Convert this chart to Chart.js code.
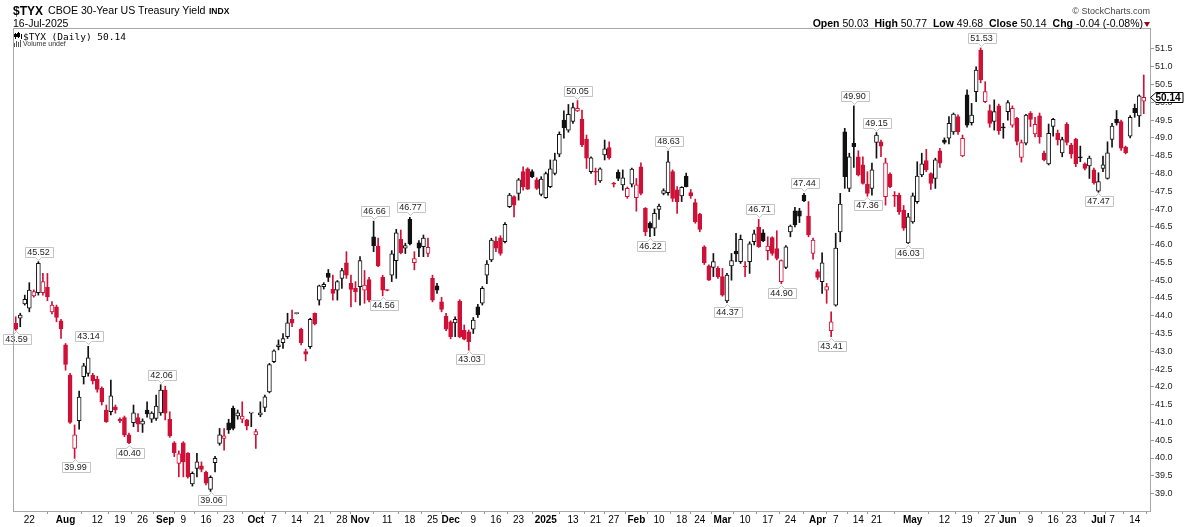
<!DOCTYPE html>
<html>
<head>
<meta charset="utf-8">
<script src="https://cdn.jsdelivr.net/npm/chart.js@4.4.1/dist/chart.umd.min.js"></script>
<style>
  body { margin: 0; background: #fff; }
  #wrap { position: relative; width: 1199px; height: 527px; overflow: hidden; font-family: "Liberation Sans", Arial, sans-serif; color: #000; }
  #wrap canvas { position: absolute; left: 0; top: 0; }
  .t { position: absolute; white-space: nowrap; line-height: 1; }
</style>
</head>
<body>
<div id="wrap">
  <canvas id="chart" width="1199" height="527"></canvas>
  <div class="t" style="left:13px;top:4.8px;font-size:12px;font-weight:bold;">$TYX</div>
  <div class="t" style="left:48px;top:5.3px;font-size:10.6px;">CBOE 30-Year US Treasury Yield</div>
  <div class="t" style="left:209px;top:7.1px;font-size:8.5px;font-weight:bold;">INDX</div>
  <div class="t" style="left:13px;top:17.8px;font-size:10.5px;">16-Jul-2025</div>
  <div class="t" id="lastline" style="left:23px;top:32px;font-family:'DejaVu Sans Mono',monospace;font-size:9.5px;"></div>
  <div class="t" style="left:23px;top:40.4px;font-size:7px;color:#333;">Volume undef</div>
  <div class="t" style="right:49px;top:7.4px;font-size:9px;color:#444;">&copy; StockCharts.com</div>
  <div class="t" id="ohlc" style="right:56px;top:17.8px;font-size:10.5px;"></div>
  <div style="position:absolute;left:1144px;top:22px;width:0;height:0;border-left:3.5px solid transparent;border-right:3.5px solid transparent;border-top:5px solid #a0001e;"></div>
</div>
<script>
// trading days shown on the chart (weekdays minus market holidays)
var holidays = ['2024-09-02', '2024-11-28', '2024-12-25', '2025-01-01', '2025-01-09', '2025-01-20',
  '2025-02-17', '2025-04-18', '2025-05-26', '2025-06-19', '2025-07-04'];
var dates = [];
for (var d = new Date(Date.UTC(2024, 6, 17)); d <= new Date(Date.UTC(2025, 6, 16)); d.setUTCDate(d.getUTCDate() + 1)) {
  var wd = d.getUTCDay(), s = d.toISOString().slice(0, 10);
  if (wd > 0 && wd < 6 && holidays.indexOf(s) < 0) dates.push(s);
}

// daily OHLC of $TYX
var open = [
  43.79, 43.93, 44.33, 44.21, 44.56, 44.65, 44.65, 44.80, 44.11, 44.25,
  43.86, 43.18, 42.33, 40.27, 41.05, 42.29, 42.38, 42.33, 42.21, 41.96,
  41.35, 41.30, 41.44, 41.09, 41.14, 40.65, 40.99, 41.14, 40.95, 41.35,
  41.09, 41.11, 41.27, 41.91, 41.09, 40.43, 39.85, 40.43, 40.13, 39.27,
  39.71, 39.78, 39.60, 39.12, 39.87, 40.41, 40.55, 40.99, 41.40, 41.18,
  41.09, 41.07, 41.26, 40.65, 41.21, 41.42, 41.86, 42.71, 43.13, 43.24,
  43.41, 43.90, 44.06, 43.62, 42.99, 43.13, 44.07, 44.44, 44.82, 45.19,
  44.74, 44.72, 45.05, 45.49, 44.91, 44.77, 44.82, 44.72, 45.02, 46.22,
  45.96, 45.08, 44.72, 45.14, 45.55, 46.15, 45.90, 46.71, 45.49, 46.05,
  45.94, 45.75, 45.05, 44.84, 44.39, 43.99, 43.83, 43.80, 44.41, 43.60,
  43.55, 43.62, 44.25, 44.35, 45.14, 45.57, 46.10, 46.19, 46.08, 47.07,
  47.35, 47.44, 48.05, 48.13, 48.05, 47.82, 47.41, 47.32, 47.63, 48.00,
  48.54, 49.50, 49.22, 49.46, 49.76, 49.53, 48.97, 48.05, 48.07, 47.79,
  48.52, 48.73, 47.72, 48.03, 47.68, 47.35, 47.70, 47.32, 48.19, 47.02,
  46.60, 46.46, 46.99, 47.44, 47.46, 48.05, 47.54, 47.37, 47.93, 47.46,
  47.18, 46.85, 45.94, 45.40, 45.36, 45.33, 45.10, 44.42, 45.40, 45.82,
  45.52, 45.39, 45.52, 46.08, 46.49, 46.33, 45.83, 46.20, 45.89, 44.96,
  45.36, 46.36, 46.95, 46.95, 47.39, 46.80, 45.75, 45.24, 44.96, 44.72,
  43.58, 44.30, 46.36, 49.17, 47.58, 48.85, 48.47, 48.24, 47.70, 47.58,
  48.87, 48.89, 47.35, 47.98, 47.38, 47.39, 46.97, 46.05, 46.64, 47.21,
  47.96, 48.36, 48.00, 47.86, 48.64, 48.94, 48.99, 49.17, 49.60, 48.49,
  50.21, 49.43, 50.30, 51.47, 50.02, 49.77, 49.46, 49.90, 49.30, 49.74,
  49.36, 49.55, 48.45, 48.85, 49.69, 49.11, 49.62, 48.57, 48.27, 49.32,
  49.13, 48.58, 49.38, 48.80, 48.96, 48.45, 48.27, 48.21, 48.10, 47.50,
  48.14, 47.86, 48.96, 49.52, 49.46, 48.74, 49.05, 49.83, 49.62, 50.03
];
var high = [
  43.97, 44.07, 44.58, 44.93, 44.73, 45.52, 45.19, 45.19, 44.40, 44.30,
  43.90, 43.22, 42.38, 40.93, 41.88, 42.66, 43.14, 42.38, 42.30, 42.00,
  41.49, 42.19, 41.49, 41.13, 41.18, 40.70, 41.49, 41.25, 41.10, 41.58,
  41.30, 41.77, 42.06, 42.02, 41.30, 40.46, 40.20, 40.46, 40.15, 39.61,
  40.13, 39.89, 39.63, 39.50, 40.05, 40.83, 40.83, 41.09, 41.46, 41.35,
  41.58, 41.09, 41.28, 40.81, 41.58, 41.77, 42.66, 43.04, 43.32, 43.50,
  44.07, 44.16, 44.08, 43.65, 43.06, 43.93, 44.08, 44.86, 44.93, 45.30,
  45.14, 44.99, 45.33, 45.80, 45.14, 44.96, 45.66, 45.27, 45.08, 46.66,
  46.18, 45.14, 44.73, 45.83, 46.43, 46.41, 46.04, 46.77, 45.80, 46.11,
  46.27, 46.18, 45.14, 44.91, 44.52, 44.07, 43.86, 43.97, 44.45, 43.74,
  43.60, 43.95, 44.32, 44.82, 45.55, 46.18, 46.22, 46.25, 46.62, 47.44,
  47.37, 47.86, 48.19, 48.16, 48.10, 47.88, 47.91, 48.04, 48.38, 48.57,
  49.17, 49.76, 49.94, 49.98, 50.05, 49.78, 49.08, 48.47, 48.15, 48.16,
  48.94, 48.89, 47.75, 48.10, 48.10, 47.62, 48.15, 47.86, 48.30, 47.04,
  46.64, 47.00, 47.14, 47.57, 48.63, 48.10, 47.63, 47.63, 48.01, 47.55,
  47.28, 46.88, 45.97, 45.43, 45.75, 45.38, 45.33, 45.19, 45.75, 46.32,
  46.27, 45.52, 46.08, 46.41, 46.71, 46.42, 46.22, 46.22, 46.39, 45.57,
  45.97, 46.55, 47.05, 47.02, 47.44, 47.21, 46.18, 45.30, 45.77, 44.91,
  44.11, 46.32, 47.44, 49.27, 48.57, 49.90, 48.64, 48.47, 48.05, 48.29,
  49.15, 48.94, 48.43, 48.02, 47.49, 47.45, 47.10, 46.88, 47.45, 48.33,
  48.57, 48.68, 48.02, 48.43, 48.71, 49.00, 49.60, 49.70, 49.65, 49.08,
  50.35, 49.97, 51.00, 51.53, 50.58, 49.93, 50.07, 49.95, 49.41, 50.05,
  49.90, 49.58, 48.94, 49.66, 49.74, 49.58, 49.70, 48.63, 49.39, 49.55,
  49.22, 49.02, 49.43, 48.85, 48.99, 48.77, 48.30, 48.49, 48.15, 48.02,
  48.49, 48.89, 49.41, 49.77, 49.50, 48.77, 49.63, 49.95, 50.21, 50.77
];
var low = [
  43.59, 43.69, 44.30, 44.11, 44.52, 44.58, 44.58, 44.42, 44.05, 43.83,
  43.36, 42.47, 40.97, 39.99, 40.81, 42.08, 42.30, 42.08, 41.85, 41.49,
  41.00, 41.21, 41.26, 40.99, 40.60, 40.40, 40.88, 40.74, 40.72, 41.15,
  41.00, 41.06, 41.20, 41.07, 40.58, 40.04, 39.47, 39.47, 39.43, 39.21,
  39.47, 39.61, 39.24, 39.06, 39.61, 40.36, 40.22, 40.69, 40.79, 41.09,
  40.99, 40.79, 40.88, 40.27, 41.16, 41.30, 41.83, 42.68, 43.04, 43.08,
  43.36, 43.69, 44.05, 43.18, 42.73, 43.08, 43.74, 44.30, 44.75, 44.96,
  44.44, 44.44, 44.77, 45.05, 44.25, 44.39, 44.30, 44.35, 44.39, 45.80,
  45.38, 44.56, 44.70, 44.96, 45.05, 45.74, 45.75, 45.99, 45.29, 45.66,
  45.66, 45.66, 44.39, 44.63, 44.11, 43.58, 43.35, 43.41, 43.38, 43.32,
  43.03, 43.50, 43.95, 44.30, 44.90, 45.52, 45.80, 45.70, 46.05, 47.04,
  46.78, 47.25, 47.53, 47.55, 47.88, 47.55, 47.37, 47.30, 47.60, 47.96,
  48.47, 48.99, 49.16, 49.41, 49.74, 48.75, 48.14, 48.00, 47.68, 47.75,
  48.38, 48.40, 47.62, 47.80, 47.53, 47.30, 47.62, 46.94, 47.40, 46.25,
  46.22, 46.25, 46.71, 47.40, 47.39, 47.21, 46.88, 47.21, 47.62, 47.30,
  46.60, 46.36, 45.44, 44.99, 45.10, 45.05, 44.55, 44.37, 45.00, 45.52,
  45.47, 45.10, 45.19, 45.99, 45.92, 46.08, 45.57, 45.70, 45.57, 44.90,
  45.32, 46.22, 46.50, 46.62, 47.21, 46.22, 45.59, 45.02, 44.63, 44.35,
  43.41, 44.27, 46.08, 47.58, 47.49, 48.17, 47.93, 47.70, 47.36, 47.39,
  48.43, 48.47, 47.11, 47.60, 47.07, 46.85, 46.40, 46.03, 46.60, 47.16,
  47.91, 48.05, 47.55, 47.58, 48.17, 48.83, 48.83, 49.10, 49.10, 48.47,
  49.30, 49.36, 50.02, 50.55, 49.99, 49.30, 49.22, 49.10, 48.99, 49.50,
  49.30, 48.80, 48.32, 48.80, 49.32, 49.03, 48.85, 48.35, 48.24, 49.05,
  48.80, 48.47, 48.80, 48.43, 48.19, 48.33, 48.10, 47.86, 47.70, 47.47,
  48.05, 47.84, 48.74, 49.36, 48.65, 48.55, 49.00, 49.58, 49.32, 49.68
];
var close = [
  43.62, 44.02, 44.46, 44.72, 44.68, 45.47, 44.96, 44.53, 44.30, 43.95,
  43.63, 42.63, 41.00, 40.65, 41.71, 42.59, 42.82, 42.17, 41.93, 41.58,
  41.02, 41.75, 41.35, 41.04, 40.65, 40.43, 41.27, 40.95, 41.04, 41.24,
  41.26, 41.46, 41.91, 41.26, 40.62, 40.15, 40.12, 39.89, 39.47, 39.57,
  39.89, 39.68, 39.29, 39.46, 39.99, 40.65, 40.62, 40.79, 40.83, 41.27,
  41.18, 40.90, 41.27, 40.74, 41.27, 41.72, 42.63, 43.01, 43.18, 43.36,
  43.80, 43.79, 44.07, 43.24, 42.92, 43.90, 43.77, 44.84, 44.88, 45.08,
  44.63, 44.96, 45.27, 45.14, 44.74, 44.68, 45.55, 44.86, 44.44, 45.97,
  45.40, 44.72, 44.71, 45.74, 46.33, 45.77, 45.97, 46.02, 45.61, 45.90,
  46.18, 45.92, 44.44, 44.72, 44.18, 43.62, 43.41, 43.90, 43.41, 43.34,
  43.27, 43.88, 44.02, 44.77, 45.45, 46.13, 45.90, 45.75, 46.57, 47.39,
  47.11, 47.82, 47.62, 47.56, 47.91, 47.58, 47.84, 48.00, 48.13, 48.38,
  49.10, 49.29, 49.66, 49.85, 49.83, 48.80, 48.43, 48.44, 48.04, 48.13,
  48.69, 48.44, 47.70, 47.86, 47.88, 47.58, 48.12, 47.68, 47.44, 46.36,
  46.46, 46.88, 47.08, 47.52, 48.33, 47.30, 47.21, 47.61, 47.63, 47.37,
  46.64, 46.43, 45.49, 45.00, 45.52, 45.10, 44.58, 45.14, 45.55, 45.74,
  46.15, 45.37, 46.02, 46.30, 45.94, 46.11, 45.96, 45.75, 45.61, 45.55,
  45.94, 46.52, 46.55, 46.80, 47.23, 46.27, 46.13, 45.08, 45.49, 44.82,
  43.83, 45.90, 47.14, 47.91, 48.47, 48.75, 47.96, 47.72, 47.44, 48.10,
  49.08, 48.77, 48.30, 47.63, 47.36, 46.92, 46.46, 46.78, 47.37, 47.93,
  48.27, 48.10, 47.72, 48.38, 48.29, 48.87, 49.41, 49.67, 49.17, 48.99,
  49.36, 49.64, 50.91, 50.63, 50.30, 49.41, 49.74, 49.20, 49.28, 49.99,
  49.83, 48.90, 48.87, 49.64, 49.52, 49.38, 49.03, 48.38, 49.13, 49.52,
  48.94, 48.95, 48.87, 48.55, 48.27, 48.44, 48.14, 48.43, 47.74, 47.77,
  48.24, 48.58, 49.33, 49.43, 48.71, 48.58, 49.58, 49.71, 50.18, 50.14
];

// bottom axis labels
var tickDates = ['2024-07-22', '2024-08-01', '2024-08-12', '2024-08-19', '2024-08-26', '2024-09-03',
  '2024-09-09', '2024-09-16', '2024-09-23', '2024-10-01', '2024-10-07', '2024-10-14', '2024-10-21',
  '2024-10-28', '2024-11-01', '2024-11-11', '2024-11-18', '2024-11-25', '2024-12-02', '2024-12-09',
  '2024-12-16', '2024-12-23', '2025-01-02', '2025-01-13', '2025-01-21', '2025-01-27', '2025-02-03',
  '2025-02-10', '2025-02-18', '2025-02-24', '2025-03-03', '2025-03-10', '2025-03-17', '2025-03-24',
  '2025-04-01', '2025-04-07', '2025-04-14', '2025-04-21', '2025-05-01', '2025-05-12', '2025-05-19',
  '2025-05-27', '2025-06-02', '2025-06-09', '2025-06-16', '2025-06-23', '2025-07-01', '2025-07-07',
  '2025-07-14'];
var tickText = ['22', 'Aug', '12', '19', '26', 'Sep', '9', '16', '23', 'Oct', '7', '14', '21', '28', 'Nov',
  '11', '18', '25', 'Dec', '9', '16', '23', '2025', '13', '21', '27', 'Feb', '10', '18', '24', 'Mar', '10',
  '17', '24', 'Apr', '7', '14', '21', 'May', '12', '19', '27', 'Jun', '9', '16', '23', 'Jul', '7', '14'];
var yTicks = [39, 39.5, 40, 40.5, 41, 41.5, 42, 42.5, 43, 43.5, 44, 44.5, 45, 45.5, 46, 46.5, 47, 47.5,
  48, 48.5, 49, 49.5, 50, 50.5, 51, 51.5];

// swing highs / lows that get a value flag
var markDates = ['2024-07-17', '2024-07-24', '2024-08-05', '2024-08-08', '2024-08-21', '2024-08-30',
  '2024-09-17', '2024-11-06', '2024-11-08', '2024-11-18', '2024-12-06', '2025-01-14', '2025-02-06',
  '2025-02-12', '2025-03-04', '2025-03-13', '2025-03-20', '2025-03-27', '2025-04-04', '2025-04-11',
  '2025-04-16', '2025-04-21', '2025-04-30', '2025-05-22', '2025-07-01'];
var markSide = ['low', 'high', 'low', 'high', 'low', 'high', 'low', 'high', 'low', 'high', 'low', 'high',
  'low', 'high', 'low', 'high', 'low', 'high', 'low', 'high', 'low', 'high', 'low', 'high', 'low'];

var red = '#cf1037';
var blk = '#111';
var n = close.length;
var colorOf = close.map(function (c, i) { return c >= (i ? close[i - 1] : open[0]) ? blk : red; });
var fillOf = close.map(function (c, i) { return c > open[i] ? '#fff' : colorOf[i]; });
var tickIdx = tickDates.map(function (t) { return dates.indexOf(t); });
var sans = '"Liberation Sans", Arial, sans-serif';

var last = n - 1;
var chg = close[last] - close[last - 1];
document.getElementById('lastline').textContent = '$TYX (Daily) ' + close[last].toFixed(2);
document.getElementById('ohlc').innerHTML =
  '<b>Open</b> ' + open[last].toFixed(2) + '&nbsp; <b>High</b> ' + high[last].toFixed(2) +
  '&nbsp; <b>Low</b> ' + low[last].toFixed(2) + '&nbsp; <b>Close</b> ' + close[last].toFixed(2) +
  '&nbsp; <b>Chg</b> ' + chg.toFixed(2) + ' (' + (chg / close[last - 1] * 100).toFixed(2) + '%)';

var framePlugin = {
  id: 'frame',
  afterDraw: function (chart) {
    var ctx = chart.ctx, a = chart.chartArea;
    ctx.save();
    ctx.strokeStyle = '#a8a8a8';
    ctx.lineWidth = 1;
    ctx.strokeRect(a.left + 0.5, a.top + 0.5, a.right - a.left - 1, a.bottom - a.top);
    // little legend icons in the corner
    ctx.fillStyle = '#000';
    ctx.fillRect(15, 33, 1, 6); ctx.fillRect(14, 34, 3, 3);
    ctx.fillRect(18, 32, 1, 6); ctx.strokeStyle = '#000'; ctx.strokeRect(17.5, 33.5, 2, 3);
    ctx.fillRect(21, 34, 1, 5);
    ctx.fillStyle = '#555';
    ctx.fillRect(14, 43, 1, 4); ctx.fillRect(16, 41, 1, 6); ctx.fillRect(18, 42, 1, 5); ctx.fillRect(20, 40, 1, 7);
    ctx.restore();
  }
};

var marksPlugin = {
  id: 'marks',
  afterDatasetsDraw: function (chart) {
    var ctx = chart.ctx, xs = chart.scales.x, ys = chart.scales.y;
    ctx.save();
    ctx.font = '9px ' + sans;
    ctx.textAlign = 'center';
    ctx.textBaseline = 'middle';
    ctx.lineWidth = 1;
    markDates.forEach(function (md, k) {
      var i = dates.indexOf(md), up = markSide[k] === 'high';
      var v = up ? high[i] : low[i];
      var txt = v.toFixed(2);
      var px = Math.round(xs.getPixelForValue(i)) + 0.5;
      var py = Math.round(ys.getPixelForValue(v));
      var w = Math.ceil(ctx.measureText(txt).width) + 5, h = 10;
      var tip = up ? py - 1.5 : py + 1.5;
      var edge = up ? tip - 3 : tip + 3;
      var far = up ? edge - h : edge + h;
      var l = Math.round(px - w / 2) + 0.5, r = l + w;
      ctx.beginPath();
      ctx.moveTo(l, edge); ctx.lineTo(px - 3, edge); ctx.lineTo(px, tip); ctx.lineTo(px + 3, edge);
      ctx.lineTo(r, edge); ctx.lineTo(r, far); ctx.lineTo(l, far); ctx.closePath();
      ctx.fillStyle = '#fff'; ctx.fill();
      ctx.strokeStyle = '#c4c4c4'; ctx.stroke();
      ctx.fillStyle = '#222';
      ctx.fillText(txt, px, (edge + far) / 2 + 0.5);
    });
    ctx.restore();
  }
};

var priceBoxPlugin = {
  id: 'pricebox',
  afterDraw: function (chart) {
    var ctx = chart.ctx, ys = chart.scales.y, x0 = chart.chartArea.right;
    var y = Math.round(ys.getPixelForValue(close[last])) + 0.5;
    ctx.save();
    ctx.beginPath();
    ctx.moveTo(x0 - 0.5, y); ctx.lineTo(x0 + 5, y - 5); ctx.lineTo(x0 + 32, y - 5);
    ctx.lineTo(x0 + 32, y + 5); ctx.lineTo(x0 + 5, y + 5); ctx.closePath();
    ctx.fillStyle = '#fff'; ctx.fill();
    ctx.strokeStyle = '#000'; ctx.lineWidth = 1; ctx.stroke();
    ctx.fillStyle = '#000';
    ctx.font = 'bold 10px ' + sans;
    ctx.textBaseline = 'middle';
    ctx.fillText(close[last].toFixed(2), x0 + 4.5, y + 0.5);
    ctx.restore();
  }
};

new Chart(document.getElementById('chart'), {
  type: 'bar',
  data: {
    datasets: [
      {
        label: 'body',
        data: close.map(function (c, i) { return { x: i, y: [Math.min(open[i], c), Math.max(open[i], c)] }; }),
        backgroundColor: fillOf,
        borderColor: colorOf,
        borderWidth: 1,
        borderSkipped: false,
        barThickness: 4,
        minBarLength: 1,
        grouped: false,
        order: 0
      },
      {
        label: 'wick',
        data: close.map(function (c, i) { return { x: i, y: [low[i], high[i]] }; }),
        backgroundColor: colorOf,
        borderWidth: 0,
        barThickness: 1,
        minBarLength: 1,
        grouped: false,
        order: 1
      }
    ]
  },
  options: {
    responsive: false,
    animation: false,
    layout: { padding: { left: 13, top: 28, right: 0, bottom: 0 } },
    plugins: { legend: { display: false }, tooltip: { enabled: false } },
    scales: {
      x: {
        type: 'linear',
        min: -0.6,
        max: n + 0.6,
        offset: false,
        border: { display: false },
        grid: { drawOnChartArea: false, drawTicks: true, tickLength: 3, color: '#999' },
        afterBuildTicks: function (s) { s.ticks = tickIdx.map(function (v) { return { value: v }; }); },
        afterFit: function (s) { s.height = 16; },
        ticks: {
          autoSkip: false,
          maxRotation: 0,
          padding: 0,
          color: '#000',
          font: function (c) {
            var t = tickText[c.index] || '';
            return { family: sans, size: 10, weight: /^[A-Z]|^20/.test(t) ? 'bold' : 'normal' };
          },
          callback: function (v, k) { return tickText[k]; }
        }
      },
      y: {
        position: 'right',
        min: 38.51,
        max: 52.09,
        border: { display: false },
        grid: { drawOnChartArea: false, drawTicks: true, tickLength: 3, color: '#999' },
        afterBuildTicks: function (s) { s.ticks = yTicks.map(function (v) { return { value: v }; }); },
        afterFit: function (s) { s.width = 48; },
        ticks: {
          padding: 1,
          color: '#222',
          font: { family: sans, size: 9 },
          callback: function (v) { return Number(v).toFixed(1); }
        }
      }
    }
  },
  plugins: [framePlugin, marksPlugin, priceBoxPlugin]
});
</script>
</body>
</html>
